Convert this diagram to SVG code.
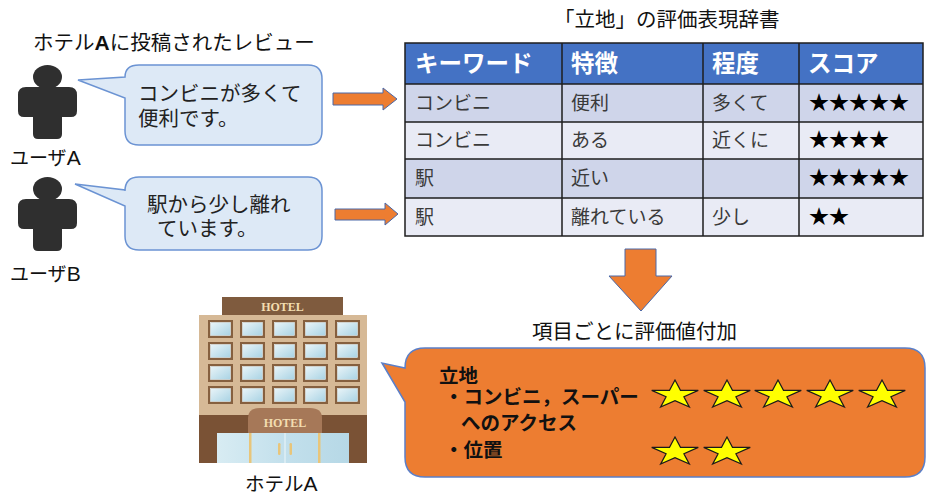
<svg xmlns="http://www.w3.org/2000/svg" width="926" height="497" viewBox="0 0 926 497">
  <style>
    .jp { font-family: "Noto Sans CJK JP", "Noto Sans", sans-serif; }
    .lat { font-family: "Liberation Sans", Arial, sans-serif; }
    .lbl { font-size: 19px; fill: #111; }
    .hd { font-size: 23.5px; font-weight: bold; fill: #fff; }
    .cell { font-size: 19px; fill: #3a3a3a; }
    .star { font-size: 20px; fill: #000; }
    .bub { fill: #dde9f6; stroke: #6b93d3; stroke-width: 1.5; }
    .btx { font-size: 20.5px; fill: #222; }
    .person { fill: #2f2f2f; }
    .arrow { fill: #ed7d31; stroke: #4a68a8; stroke-width: 1; }
    .grid { stroke: #1e1e1e; stroke-width: 1.5; fill: none; }
    .ystar { fill: #ffff00; stroke: #1a1a1a; stroke-width: 1.2; stroke-linejoin: miter; }
    .btxt { font-size: 19.5px; font-weight: bold; fill: #111; }
    .win { fill: #86603f; }
    .hotel-txt { font-family: "Liberation Serif", serif; font-weight: bold; font-size: 12px; fill: #f3ddb0; }
  </style>
  <defs>
    <linearGradient id="glass" x1="0" y1="0" x2="1" y2="1">
      <stop offset="0" stop-color="#e9f4f8"/>
      <stop offset="1" stop-color="#a9d3e4"/>
    </linearGradient>
    <linearGradient id="door" x1="0" y1="0" x2="1" y2="0">
      <stop offset="0" stop-color="#d8ecf3"/>
      <stop offset="0.5" stop-color="#c3e0ec"/>
      <stop offset="1" stop-color="#b6d8e6"/>
    </linearGradient>
    <path id="ystar" d="M0 -15 L5.5 -4.6 L23.3 -4.6 L8.9 1.8 L14.4 12.1 L0 5.7 L-14.4 12.1 L-8.9 1.8 L-23.3 -4.6 L-5.5 -4.6 Z"/>
    <g id="window">
      <rect width="25" height="18" class="win"/>
      <rect x="2.5" y="2.5" width="20" height="13" fill="url(#glass)" stroke="#e6f1f4" stroke-width="0.6"/>
    </g>
    <g id="person">
      <ellipse cx="47.5" cy="77" rx="14.5" ry="12"/>
      <path d="M26 87 H69 Q77 87 77 95 V111 Q77 117 71 117 H62 V134 Q62 139 57 139 H38 Q33 139 33 134 V117 H24 Q18 117 18 111 V95 Q18 87 26 87 Z"/>
    </g>
  </defs>

  <!-- heading of the review column -->
  <text class="jp" x="33" y="50" font-size="20.5" fill="#111">ホテル<tspan class="lat" font-weight="bold" font-size="21">A</tspan>に投稿されたレビュー</text>

  <!-- user A -->
  <g id="userA">
    <use href="#person" class="person"/>
    <text class="jp lbl" x="10" y="165">ユーザ<tspan class="lat" font-size="21">A</tspan></text>
  </g>
  <g id="reviewA">
    <path class="bub" d="M125 77 Q125 65 139 65 H308 Q322 65 322 79 V131 Q322 145 308 145 H139 Q125 145 125 131 V98 L78 80 Z"/>
    <text class="jp btx"><tspan x="138" y="101">コンビニが多くて</tspan><tspan x="138" y="126">便利です。</tspan></text>
  </g>

  <!-- user B -->
  <g id="userB">
    <use href="#person" class="person" transform="translate(0,112)"/>
    <text class="jp lbl" x="10" y="281">ユーザ<tspan class="lat" font-size="21">B</tspan></text>
  </g>
  <g id="reviewB">
    <path class="bub" d="M125 190 V191 Q125 177 139 177 H308 Q322 177 322 191 V236 Q322 250 308 250 H139 Q125 250 125 236 V206 L75 184 Z"/>
    <text class="jp btx"><tspan x="147" y="212">駅から少し離れ</tspan><tspan x="157" y="236">ています。</tspan></text>
  </g>

  <!-- dictionary table -->
  <g id="dictionary">
    <text class="jp" x="554" y="27" font-size="20.5" fill="#111">「立地」の評価表現辞書</text>
    <rect x="405" y="43" width="518" height="41" fill="#4472c4"/>
    <rect x="405" y="84" width="518" height="38" fill="#cfd5ea"/>
    <rect x="405" y="122" width="518" height="37" fill="#e9ebf5"/>
    <rect x="405" y="159" width="518" height="39" fill="#cfd5ea"/>
    <rect x="405" y="198" width="518" height="38" fill="#e9ebf5"/>
    <rect class="grid" x="405" y="43" width="518" height="193"/>
    <path class="grid" d="M405 84 H923 M405 122 H923 M405 159 H923 M405 198 H923 M562 43 V236 M703 43 V236 M799 43 V236"/>

    <text class="jp hd" x="415" y="72">キーワード</text>
    <text class="jp hd" x="571" y="72">特徴</text>
    <text class="jp hd" x="712" y="72">程度</text>
    <text class="jp hd" x="808" y="72">スコア</text>

    <text class="jp cell" x="415" y="110">コンビニ</text>
    <text class="jp cell" x="571" y="110">便利</text>
    <text class="jp cell" x="712" y="110">多くて</text>
    <text class="jp star" x="809" y="110">★★★★★</text>

    <text class="jp cell" x="415" y="147">コンビニ</text>
    <text class="jp cell" x="571" y="147">ある</text>
    <text class="jp cell" x="712" y="147">近くに</text>
    <text class="jp star" x="809" y="147">★★★★</text>

    <text class="jp cell" x="415" y="185">駅</text>
    <text class="jp cell" x="571" y="185">近い</text>
    <text class="jp star" x="809" y="185">★★★★★</text>

    <text class="jp cell" x="415" y="224">駅</text>
    <text class="jp cell" x="571" y="224">離れている</text>
    <text class="jp cell" x="712" y="224">少し</text>
    <text class="jp star" x="809" y="224">★★</text>
  </g>

  <!-- connectors -->
  <g id="connectors">
    <polygon class="arrow" points="333,93 383,93 383,88 397,99 383,110 383,105 333,105"/>
    <polygon class="arrow" points="335,209 385,209 385,203 398,214 385,225 385,220 335,220"/>
    <polygon class="arrow" points="625,249 656,249 656,276 672,276 641,311 609,276 625,276"/>
  </g>

  <!-- hotel building -->
  <g id="hotel">
    <rect x="222" y="297" width="121" height="18" fill="#7f5b3e"/>
    <text class="hotel-txt" x="282.5" y="311" text-anchor="middle">HOTEL</text>
    <rect x="199" y="315" width="168" height="100" fill="#d6b996"/>
    <g>
      <use href="#window" x="208" y="320"/><use href="#window" x="240" y="320"/><use href="#window" x="272" y="320"/><use href="#window" x="303" y="320"/><use href="#window" x="335" y="320"/>
      <use href="#window" x="208" y="342"/><use href="#window" x="240" y="342"/><use href="#window" x="272" y="342"/><use href="#window" x="303" y="342"/><use href="#window" x="335" y="342"/>
      <use href="#window" x="208" y="364"/><use href="#window" x="240" y="364"/><use href="#window" x="272" y="364"/><use href="#window" x="303" y="364"/><use href="#window" x="335" y="364"/>
      <use href="#window" x="208" y="386"/><use href="#window" x="240" y="386"/><use href="#window" x="272" y="386"/><use href="#window" x="303" y="386"/><use href="#window" x="335" y="386"/>
    </g>
    <rect x="199" y="415" width="168" height="48" fill="#7a5235"/>
    <path d="M248 433 V418 Q248 408 260 408 H310 Q322 408 322 418 V433 Z" fill="#a67858"/>
    <text class="hotel-txt" x="285" y="427" text-anchor="middle">HOTEL</text>
    <rect x="217" y="433" width="132" height="30" fill="url(#door)"/>
    <rect x="249" y="433" width="2.5" height="30" fill="#e8c57a"/>
    <rect x="318" y="433" width="2.5" height="30" fill="#e8c57a"/>
    <line x1="285" y1="433" x2="285" y2="463" stroke="#eef7fa" stroke-width="1"/>
    <rect x="278" y="443" width="2.5" height="12" rx="1.2" fill="#e8c57a"/>
    <rect x="289.5" y="443" width="2.5" height="12" rx="1.2" fill="#e8c57a"/>
    <text class="jp" x="245" y="491" font-size="19.5" fill="#111">ホテル<tspan class="lat" font-size="21">A</tspan></text>
  </g>

  <!-- per-item evaluation result -->
  <g id="result">
    <text class="jp" x="532" y="339" font-size="20.5" fill="#111">項目ごとに評価値付加</text>
    <path d="M405 368 Q405 348 425 348 H905 Q925 348 925 368 V457 Q925 477 905 477 H425 Q405 477 405 457 V402 L382 363 Z" fill="#ed7d31" stroke="#5b7fc8" stroke-width="1.5"/>
    <text class="jp btxt"><tspan x="439" y="383">立地</tspan><tspan x="444" y="404">・コンビニ，スーパー</tspan><tspan x="461" y="430">へのアクセス</tspan><tspan x="444" y="457">・位置</tspan></text>
    <use href="#ystar" class="ystar" x="675" y="395"/>
    <use href="#ystar" class="ystar" x="727" y="395"/>
    <use href="#ystar" class="ystar" x="778" y="395"/>
    <use href="#ystar" class="ystar" x="830" y="395"/>
    <use href="#ystar" class="ystar" x="882" y="395"/>
    <use href="#ystar" class="ystar" x="675" y="452"/>
    <use href="#ystar" class="ystar" x="727" y="452"/>
  </g>
</svg>
